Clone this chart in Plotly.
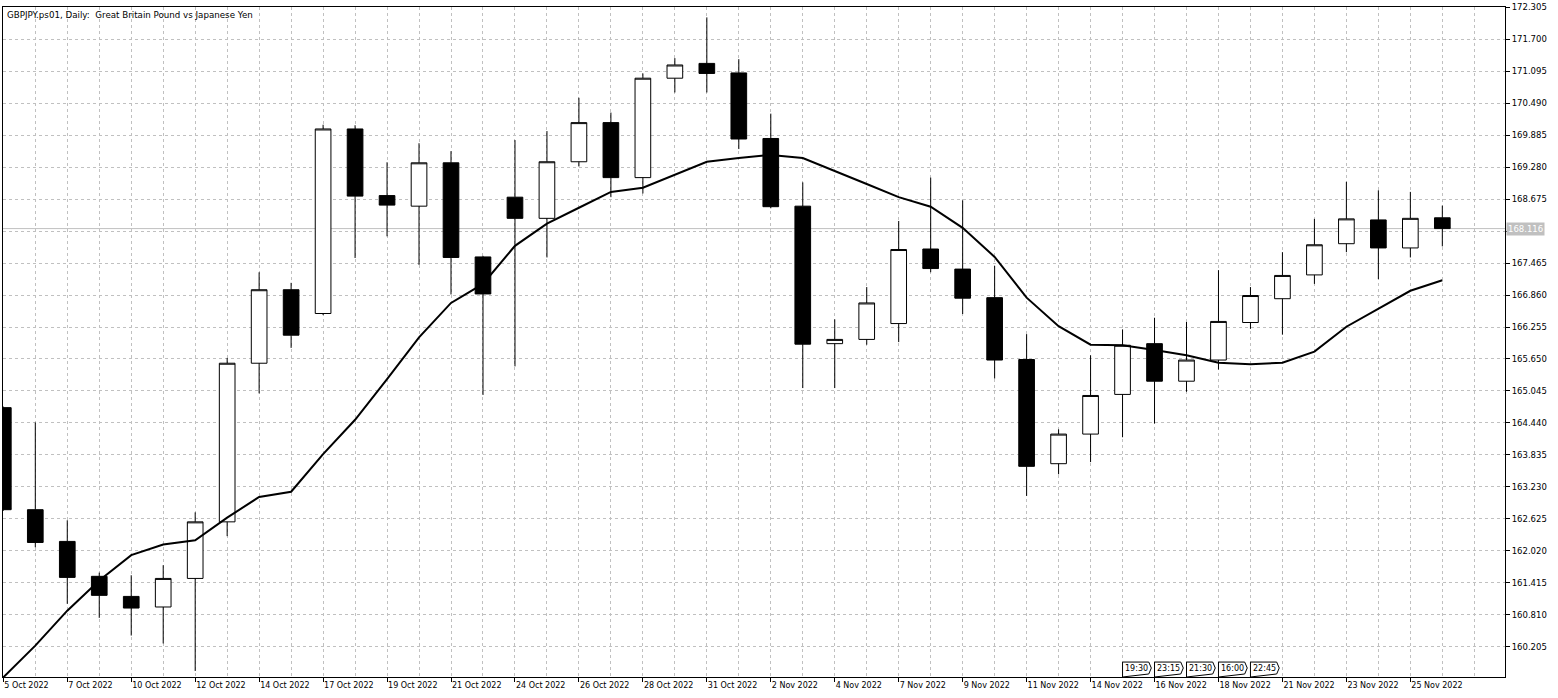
import plotly.graph_objects as go

# ---------------- data ----------------
dates = [
    "5 Oct 2022", "6 Oct 2022", "7 Oct 2022", "9 Oct 2022", "10 Oct 2022", "11 Oct 2022",
    "12 Oct 2022", "13 Oct 2022", "14 Oct 2022", "16 Oct 2022", "17 Oct 2022", "18 Oct 2022",
    "19 Oct 2022", "20 Oct 2022", "21 Oct 2022", "23 Oct 2022", "24 Oct 2022", "25 Oct 2022",
    "26 Oct 2022", "27 Oct 2022", "28 Oct 2022", "30 Oct 2022", "31 Oct 2022", "1 Nov 2022",
    "2 Nov 2022", "3 Nov 2022", "4 Nov 2022", "6 Nov 2022", "7 Nov 2022", "8 Nov 2022",
    "9 Nov 2022", "10 Nov 2022", "11 Nov 2022", "13 Nov 2022", "14 Nov 2022", "15 Nov 2022",
    "16 Nov 2022", "17 Nov 2022", "18 Nov 2022", "20 Nov 2022", "21 Nov 2022", "22 Nov 2022",
    "23 Nov 2022", "24 Nov 2022", "25 Nov 2022", "27 Nov 2022",
]
opens = [164.73, 162.80, 162.20, 161.54, 161.16, 160.96, 161.50, 162.57, 165.57, 166.96,
         166.51, 170.00, 168.74, 168.54, 169.36, 167.58, 168.71, 168.31, 169.38, 170.12,
         169.08, 170.96, 171.24, 171.06, 169.82, 168.54, 165.94, 166.02, 166.32, 167.73,
         167.35, 166.81, 165.64, 163.67, 164.23, 164.98, 165.94, 165.23, 165.63, 166.34,
         166.79, 167.24, 167.83, 168.28, 167.75, 168.32]
highs = [164.75, 164.45, 162.60, 161.61, 161.56, 161.75, 162.75, 165.67, 167.29, 167.09,
         170.08, 170.07, 169.37, 169.73, 169.58, 167.60, 169.79, 169.96, 170.59, 170.31,
         171.05, 171.34, 172.11, 171.32, 170.29, 168.99, 166.40, 167.01, 168.26, 169.08,
         168.65, 167.41, 166.12, 164.32, 165.72, 166.21, 166.43, 166.35, 167.33, 167.01,
         167.67, 168.30, 169.00, 168.84, 168.81, 168.55]
lows = [162.78, 162.09, 161.02, 160.755, 160.42, 160.27, 159.75, 162.30, 165.00, 165.86,
        166.48, 167.56, 167.97, 167.43, 166.87, 164.97, 165.51, 167.57, 169.29, 168.71,
        168.78, 170.69, 170.69, 169.62, 168.50, 165.10, 165.10, 165.92, 165.97, 167.29,
        166.50, 165.28, 163.06, 163.47, 163.70, 164.17, 164.43, 165.03, 165.45, 166.22,
        166.11, 167.07, 167.67, 167.16, 167.57, 167.78]
closes = [162.80, 162.18, 161.52, 161.18, 160.94, 161.50, 162.57, 165.57, 166.96, 166.10,
          170.00, 168.73, 168.56, 169.36, 167.57, 166.88, 168.31, 169.38, 170.12, 169.08,
          170.96, 171.21, 171.05, 169.81, 168.53, 165.93, 166.02, 166.71, 167.72, 167.36,
          166.80, 165.63, 163.62, 164.23, 164.96, 165.91, 165.23, 165.63, 166.36, 166.85,
          167.23, 167.81, 168.30, 167.75, 168.31, 168.116]
ma_values = [159.63, 160.23, 160.89, 161.46, 161.94, 162.14, 162.22, 162.65, 163.04, 163.14,
             163.85, 164.50, 165.27, 166.06, 166.71, 167.07, 167.79, 168.21, 168.51, 168.81,
             168.89, 169.14, 169.38, 169.45, 169.51, 169.45, 169.21, 168.96, 168.71, 168.53,
             168.13, 167.58, 166.81, 166.27, 165.92, 165.91, 165.82, 165.72, 165.58, 165.55,
             165.58, 165.79, 166.26, 166.60, 166.94, 167.14]
y_ticks = [172.305, 171.700, 171.095, 170.490, 169.885, 169.280, 168.675, 168.070,
           167.465, 166.860, 166.255, 165.650, 165.045, 164.440, 163.835, 163.230,
           162.625, 162.020, 161.415, 160.810, 160.205]
last_price = 168.116
# the 168.070 label is covered by the bid-price box in the reference
y_tick_labels = ["" if abs(v - last_price) < 0.1 else "%.3f" % v for v in y_ticks]
event_dates = ["15 Nov 2022", "16 Nov 2022", "17 Nov 2022", "18 Nov 2022", "20 Nov 2022"]
event_times = ["19:30", "23:15", "21:30", "16:00", "22:45"]
title_text = "GBPJPY.ps01, Daily:  Great Britain Pound vs Japanese Yen"

# ---------------- figure ----------------
x = list(range(len(dates)))
FONT = "DejaVu Sans"
GRID = "#c0c0c0"

fig = go.Figure()
fig.add_trace(go.Candlestick(
    x=x, open=opens, high=highs, low=lows, close=closes,
    increasing=dict(line=dict(color="black", width=1), fillcolor="white"),
    decreasing=dict(line=dict(color="black", width=1), fillcolor="black"),
    whiskerwidth=0, showlegend=False, hoverinfo="skip",
))
fig.add_trace(go.Scatter(
    x=x, y=ma_values, mode="lines", line=dict(color="black", width=2),
    showlegend=False, hoverinfo="skip",
))

# bid price line
fig.add_shape(type="line", xref="paper", x0=0, x1=1, yref="y", y0=last_price, y1=last_price,
              line=dict(color=GRID, width=1), layer="between")
fig.add_annotation(xref="paper", x=1, xanchor="left", xshift=1, yref="y", y=last_price,
                   yanchor="middle", text="%.3f" % last_price, showarrow=False,
                   bgcolor="#c0c0c0", font=dict(family=FONT, size=8.5, color="white"),
                   borderpad=1)

# title
fig.add_annotation(xref="paper", x=0, xanchor="left", xshift=2, yref="paper", y=1,
                   yanchor="top", yshift=-1, text=title_text, showarrow=False,
                   font=dict(family=FONT, size=8.7, color="black"))

# event markers
yb, yt = 0.0045, 0.0223
ym = (yb + yt) / 2
for d, t in zip(event_dates, event_times):
    i = dates.index(d)
    path = (f"M {i} 0 L {i} {yb} L {i} {yt} L {i + 0.82} {yt} "
            f"L {i + 0.9} {ym} L {i + 0.82} {yb} Z")
    fig.add_shape(type="path", xref="x", yref="paper", path=path,
                  line=dict(color="black", width=1), fillcolor="white", layer="above")
    fig.add_annotation(xref="x", x=i + 0.43, yref="paper", y=ym, text=t, showarrow=False,
                       font=dict(family=FONT, size=8, color="black"), yanchor="middle")

fig.update_layout(
    width=1558, height=698,
    margin=dict(l=2, r=53, t=3, b=21),
    paper_bgcolor="white", plot_bgcolor="white",
    font=dict(family=FONT, size=8, color="black"),
    showlegend=False,
    xaxis=dict(
        range=[-0.01, 46.96], rangeslider=dict(visible=False),
        tickmode="array", tickvals=x[::2], ticktext=dates[::2],
        ticks="outside", ticklen=4, tickcolor="black",
        ticklabelposition="outside right",
        showgrid=True, gridcolor=GRID, griddash="3px,3px", gridwidth=1,
        minor=dict(tickmode="linear", tick0=0, dtick=1, showgrid=True,
                   gridcolor=GRID, griddash="3px,3px", ticks=""),
        showline=True, linecolor="black", linewidth=1, mirror=True,
        zeroline=False, fixedrange=True,
        tickfont=dict(family=FONT, size=8, color="black"),
    ),
    yaxis=dict(
        side="right", range=[159.636, 172.3065],
        tickmode="array", tickvals=y_ticks, ticktext=y_tick_labels,
        ticks="outside", ticklen=4, tickcolor="black",
        ticklabeloverflow="allow",
        showgrid=True, gridcolor=GRID, griddash="3px,3px", gridwidth=1,
        showline=True, linecolor="black", linewidth=1, mirror=True,
        zeroline=False, fixedrange=True,
        tickfont=dict(family=FONT, size=8.5, color="black"),
    ),
)

fig.write_html("out.html", config={"displayModeBar": False},
               post_script="document.body.style.margin='0';")
